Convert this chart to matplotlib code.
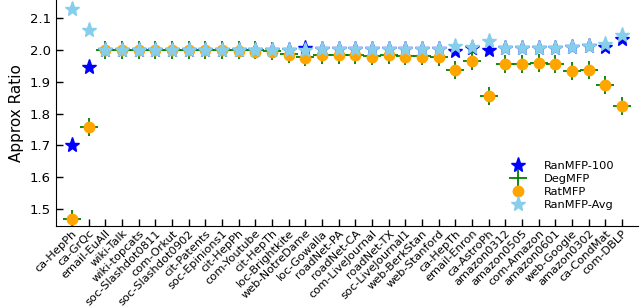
import matplotlib
matplotlib.use("Agg")
import matplotlib.pyplot as plt
from matplotlib.transforms import ScaledTranslation

# graphs, in plot order
graphs = ["ca-HepPh", "ca-GrQc", "email-EuAll", "wiki-Talk", "wiki-topcats",
          "soc-Slashdot0811", "com-Orkut", "soc-Slashdot0902", "cit-Patents",
          "soc-Epinions1", "cit-HepPh", "com-Youtube", "cit-HepTh", "loc-Brightkite",
          "web-NotreDame", "loc-Gowalla", "roadNet-PA", "roadNet-CA",
          "com-LiveJournal", "roadNet-TX", "soc-LiveJournal1", "web-BerkStan",
          "web-Stanford", "ca-HepTh", "email-Enron", "ca-AstroPh", "amazon0312",
          "amazon0505", "com-Amazon", "amazon0601", "web-Google", "amazon0302",
          "ca-CondMat", "com-DBLP"]

ran100 = [1.701, 1.947, 2.0, 2.0, 2.0, 2.0, 2.0, 2.0, 2.0, 2.0, 2.0, 2.0, 2.0, 2.0,
          2.005, 2.002, 2.002, 2.002, 2.002, 2.003, 2.003, 2.003, 2.003, 1.998,
          2.005, 2.0, 2.005, 2.005, 2.005, 2.005, 2.01, 2.012, 2.01, 2.033]
deg = [1.469, 1.759, 2.0, 2.0, 2.0, 2.0, 2.0, 2.0, 2.0, 2.0, 2.0, 2.0, 1.997, 1.987,
       1.977, 1.985, 1.985, 1.983, 1.980, 1.983, 1.980, 1.980, 1.979, 1.936,
       1.966, 1.855, 1.956, 1.956, 1.959, 1.955, 1.934, 1.936, 1.890, 1.825]
rat = [1.469, 1.759, 2.0, 2.0, 2.0, 2.0, 2.0, 2.0, 2.0, 2.0, 1.997, 1.995, 1.993, 1.985,
       1.976, 1.985, 1.985, 1.983, 1.979, 1.983, 1.979, 1.979, 1.979, 1.936,
       1.966, 1.855, 1.956, 1.956, 1.959, 1.955, 1.934, 1.936, 1.890, 1.825]
ranavg = [2.129, 2.064, 2.0, 2.0, 2.0, 2.0, 2.0, 2.0, 2.0, 2.0, 2.0, 2.0, 2.0, 2.0,
          2.0, 2.002, 2.002, 2.002, 2.002, 2.003, 2.003, 2.003, 2.003, 2.013,
          2.008, 2.028, 2.005, 2.005, 2.005, 2.005, 2.01, 2.012, 2.02, 2.047]

x = list(range(len(graphs)))

fig = plt.figure(figsize=(6.4, 3.06), dpi=100)
ax = fig.add_axes([0.087, 0.261, 0.91, 0.739])

ax.plot(x, ran100, "*", color="blue", markersize=11, linestyle="none", label="RanMFP-100")
ax.plot(x, deg, "+", color="green", markersize=13, markeredgewidth=1.3, linestyle="none", label="DegMFP")
ax.plot(x, rat, "o", color="orange", markersize=7.5, linestyle="none", label="RatMFP")
ax.plot(x, ranavg, "*", color="skyblue", markersize=11, linestyle="none", label="RanMFP-Avg")

ax.set_xlim(-0.98, 33.96)
ax.set_ylim(1.4465, 2.157)
ax.set_yticks([1.5, 1.6, 1.7, 1.8, 1.9, 2.0, 2.1])
ax.set_xticks(x)
ax.set_xticklabels(graphs, rotation=45, ha="right", va="top",
                   rotation_mode="anchor", fontsize=8.2)
# nudge labels a little to the right
shift = ScaledTranslation(5 / 100, 0, fig.dpi_scale_trans)
for lbl in ax.get_xticklabels():
    lbl.set_transform(lbl.get_transform() + shift)
ax.tick_params(direction="in", length=5, width=1, labelsize=9.5)
ax.tick_params(axis="x", labelsize=8.2, pad=1.5)
ax.spines["top"].set_visible(False)
ax.spines["right"].set_visible(False)
ax.set_ylabel("Approx Ratio", fontsize=11)

ax.legend(loc="lower right", bbox_to_anchor=(0.975, 0.03), frameon=False, fontsize=8.2,
          handletextpad=1.3, labelspacing=0.28, borderaxespad=0.4)

fig.savefig("out.png", dpi=100)
